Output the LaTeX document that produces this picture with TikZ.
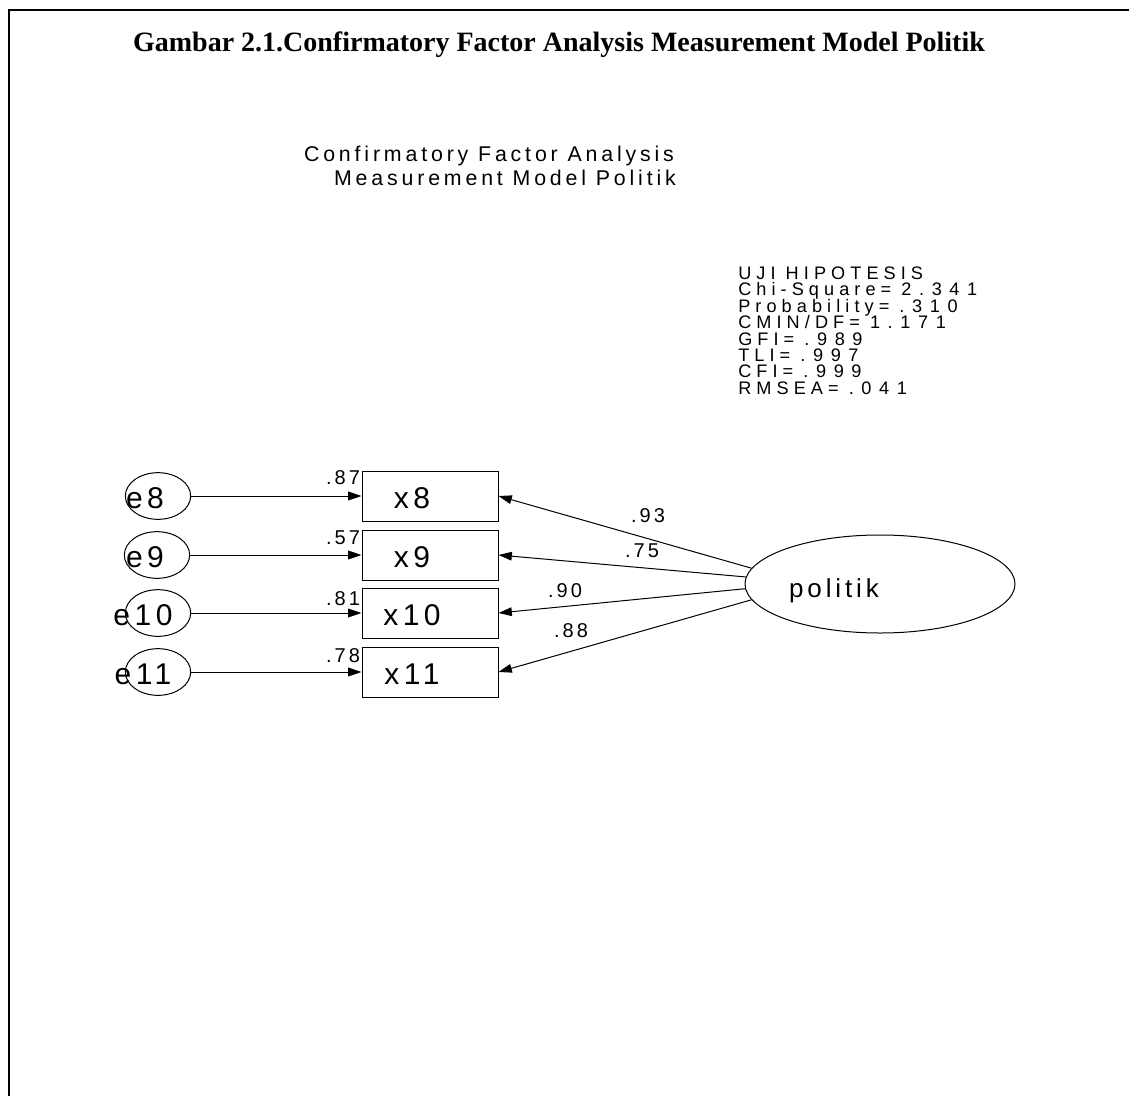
\documentclass[tikz,border=0pt]{standalone}
\usepackage{fontspec}
\setmainfont{Liberation Serif}
\newfontfamily\amos[LetterSpace=18]{Liberation Sans}
\newfontfamily\amosn[LetterSpace=15]{Liberation Sans}
\newfontfamily\amoss[LetterSpace=28]{Liberation Sans}
\newfontfamily\amosd[LetterSpace=42]{Liberation Sans}
\usetikzlibrary{shapes.geometric,arrows.meta}
\newcommand{\statnum}[1]{\ {\amosd #1}}
\newcommand{\statfont}{\amoss\fontsize{13.6}{12.3}\selectfont\lineskiplimit=-100pt\relax\lineskip=0pt\relax}
\begin{document}
\begin{tikzpicture}[x=0.75pt,y=-0.75pt,
  lat/.style={ellipse,draw,line width=0.75pt,inner sep=0pt},
  errv/.style={lat,minimum width=49pt,minimum height=35pt},
  obs/.style={rectangle,draw,line width=0.75pt,minimum width=102pt,minimum height=37.5pt,inner sep=0pt},
  big/.style={font=\amosn\fontsize{22.5}{22.5}\selectfont,inner sep=0pt},
  coef/.style={font=\amosn\fontsize{15}{15}\selectfont,inner sep=0pt},
  statblock/.style={font=\statfont,inner sep=0pt,anchor=north west,align=left},
  subt/.style={font=\amos\fontsize{16}{16}\selectfont,inner sep=0pt},
  conn/.style={line width=0.75pt,-{Triangle[length=10pt,width=6.5pt]}}
]
\useasboundingbox (0,0) rectangle (1129,1096);
\draw[line width=2pt] (9,1096) -- (9,10) -- (1129,10);

\node[font=\bfseries\fontsize{21}{25}\selectfont,inner sep=0pt] (title) at (559,45)
  {Gambar 2.1.Confirmatory Factor Analysis Measurement Model Politik};

\node[subt] (sub1) at (489,156) {Confirmatory Factor Analysis};
\node[subt] (sub2) at (505,178) {Measurement Model Politik};

\node[statblock] (stats) at (738,266.5) {UJI HIPOTESIS\\
Chi-Square=\statnum{2.341}\\
Probability=\statnum{.310}\\
CMIN/DF=\statnum{1.171}\\
GFI=\statnum{.989}\\
TLI=\statnum{.997}\\
CFI=\statnum{.999}\\
RMSEA=\statnum{.041}};

% error variables
\node[errv] (e8) at (158,496) {};
\node[errv] (e9) at (157,555) {};
\node[errv] (e10) at (158,613) {};
\node[errv] (e11) at (158,672) {};
\node[big] (e8t) at (145,498) {e8};
\node[big] (e9t) at (145,557) {e9};
\node[big] (e10t) at (143,615) {e10};
\node[big] (e11t) at (143,674) {e11};

% observed
\node[obs] (x8) at (430,496) {};
\node[obs] (x9) at (430,555) {};
\node[obs] (x10) at (430,613) {};
\node[obs] (x11) at (430,672) {};
\node[big] (x8t) at (412,498) {x8};
\node[big] (x9t) at (412,557) {x9};
\node[big] (x10t) at (412,615) {x10};
\node[big] (x11t) at (412,674) {x11};

% latent
\node[lat,minimum width=202.5pt,minimum height=73.5pt] (pol) at (880,584) {};
\node[inner sep=0pt,anchor=base,font=\amosn\fontsize{19.5}{19.5}\selectfont] (polt) at (834,597) {politik};

% error paths
\draw[conn] (e8) -- (x8);
\draw[conn] (e9) -- (x9);
\draw[conn] (e10) -- (x10);
\draw[conn] (e11) -- (x11);
\node[coef] (c8) at (343,478) {.87};
\node[coef] (c9) at (343,538) {.57};
\node[coef] (c10) at (343,599) {.81};
\node[coef] (c11) at (343,656) {.78};

% loadings
\draw[conn] (pol.173.4) -- (x8.east);
\draw[conn] (pol.177.9) -- (x9.east);
\draw[conn] (pol.182.5) -- (x10.east);
\draw[conn] (pol.187) -- (x11.east);
\node[coef] (l8) at (648,516) {.93};
\node[coef] (l9) at (642,551) {.75};
\node[coef] (l10) at (565,591) {.90};
\node[coef] (l11) at (571,631) {.88};
\end{tikzpicture}
\end{document}
